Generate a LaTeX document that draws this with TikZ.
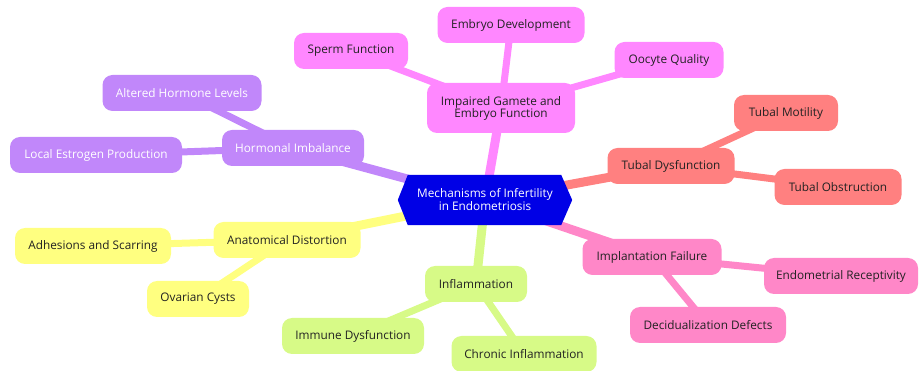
\documentclass[tikz,border=0pt]{standalone}
\usepackage{fontspec}
\setmainfont{Open Sans}
\pgfdeclarelayer{background}
\pgfdeclarelayer{mid}
\pgfsetlayers{background,mid,main}
\definecolor{cblu}{HTML}{0000E6}
\definecolor{cpur}{HTML}{C187FA}
\definecolor{cmag}{HTML}{FF87FF}
\definecolor{csal}{HTML}{FF8080}
\definecolor{cpnk}{HTML}{FF87C8}
\definecolor{cgrn}{HTML}{D7FA87}
\definecolor{cyel}{HTML}{FFFF80}
\definecolor{ctxt}{HTML}{222222}
\begin{document}
\begin{tikzpicture}[x=1pt,y=-1pt,
  every node/.style={font=\fontsize{11.8}{14}\selectfont},
  box/.style={rounded corners=10pt, inner xsep=12pt, inner ysep=0pt, minimum height=36pt, text=ctxt, align=center},
  mainedge/.style={line width=9pt},
  subedge/.style={line width=7pt}]
\useasboundingbox (0,0) rectangle (919,371);

% root
\node[text=white, align=center, minimum width=174pt, minimum height=50pt, inner sep=0pt] (root) at (485,200) {Mechanisms of Infertility\\[-1pt]in Endometriosis};
\begin{pgfonlayer}{mid}
\fill[cblu] (root.west) -- ([xshift=10pt]root.north west) -- ([xshift=-11pt]root.north east) -- (root.east) -- ([xshift=-11pt]root.south east) -- ([xshift=10pt]root.south west) -- cycle;
\end{pgfonlayer}

% gamete
\node[box, fill=cmag, minimum width=148pt, minimum height=50pt] (gam) at (501,108) {Impaired Gamete and\\[-2pt]Embryo Function};
\node[box, fill=cmag, minimum width=147pt] (emb) at (511,25) {Embryo Development};
\node[box, fill=cmag, minimum width=114pt] (spe) at (351,51) {Sperm Function};
\node[box, fill=cmag, minimum width=109pt] (ooc) at (669,60) {Oocyte Quality};

% hormonal
\node[box, fill=cpur, text=white, minimum width=142pt] (hor) at (293,148) {Hormonal Imbalance};
\node[box, fill=cpur, text=white, minimum width=159pt] (alt) at (182,93) {Altered Hormone Levels};
\node[box, fill=cpur, text=white, minimum width=172pt] (loc) at (96,155) {Local Estrogen Production};

% tubal
\node[box, fill=csal, minimum width=127pt] (tub) at (671,166) {Tubal Dysfunction};
\node[box, fill=csal, minimum width=104pt] (mot) at (786,113) {Tubal Motility};
\node[box, fill=csal, minimum width=127pt] (obs) at (838,187) {Tubal Obstruction};

% anatomical
\node[box, fill=cyel, minimum width=147pt] (ana) at (287,240) {Anatomical Distortion};
\node[box, fill=cyel, minimum width=156pt] (adh) at (93,246) {Adhesions and Scarring};
\node[box, fill=cyel, minimum width=102pt] (ova) at (198,299) {Ovarian Cysts};

% inflammation
\node[box, fill=cgrn, minimum width=102pt] (inf) at (476,284) {Inflammation};
\node[box, fill=cgrn, minimum width=142pt] (imm) at (353,336) {Immune Dysfunction};
\node[box, fill=cgrn, minimum width=145pt] (chr) at (524,354) {Chronic Inflammation};

% implantation
\node[box, fill=cpnk, minimum width=139pt] (imp) at (652,257) {Implantation Failure};
\node[box, fill=cpnk, minimum width=154pt] (end) at (841,276) {Endometrial Receptivity};
\node[box, fill=cpnk, minimum width=156pt] (dec) at (708,325) {Decidualization Defects};

\begin{pgfonlayer}{background}
\draw[mainedge, cmag] (root.center) -- (gam.center);
\draw[mainedge, cpur] (root.center) -- (hor.center);
\draw[mainedge, csal] (root.center) -- (tub.center);
\draw[mainedge, cyel] (root.center) -- (ana.center);
\draw[mainedge, cgrn] (root.center) -- (inf.center);
\draw[mainedge, cpnk] (root.center) -- (imp.center);
\draw[subedge, cmag] (gam.center) -- (emb.center);
\draw[subedge, cmag] (gam.center) -- (spe.center);
\draw[subedge, cmag] (gam.center) -- (ooc.center);
\draw[subedge, cpur] (hor.center) -- (alt.center);
\draw[subedge, cpur] (hor.center) -- (loc.center);
\draw[subedge, csal] (tub.center) -- (mot.center);
\draw[subedge, csal] (tub.center) -- (obs.center);
\draw[subedge, cyel] (ana.center) -- (adh.center);
\draw[subedge, cyel] (ana.center) -- (ova.center);
\draw[subedge, cgrn] (inf.center) -- (imm.center);
\draw[subedge, cgrn] (inf.center) -- (chr.center);
\draw[subedge, cpnk] (imp.center) -- (end.center);
\draw[subedge, cpnk] (imp.center) -- (dec.center);
\end{pgfonlayer}
\end{tikzpicture}
\end{document}
